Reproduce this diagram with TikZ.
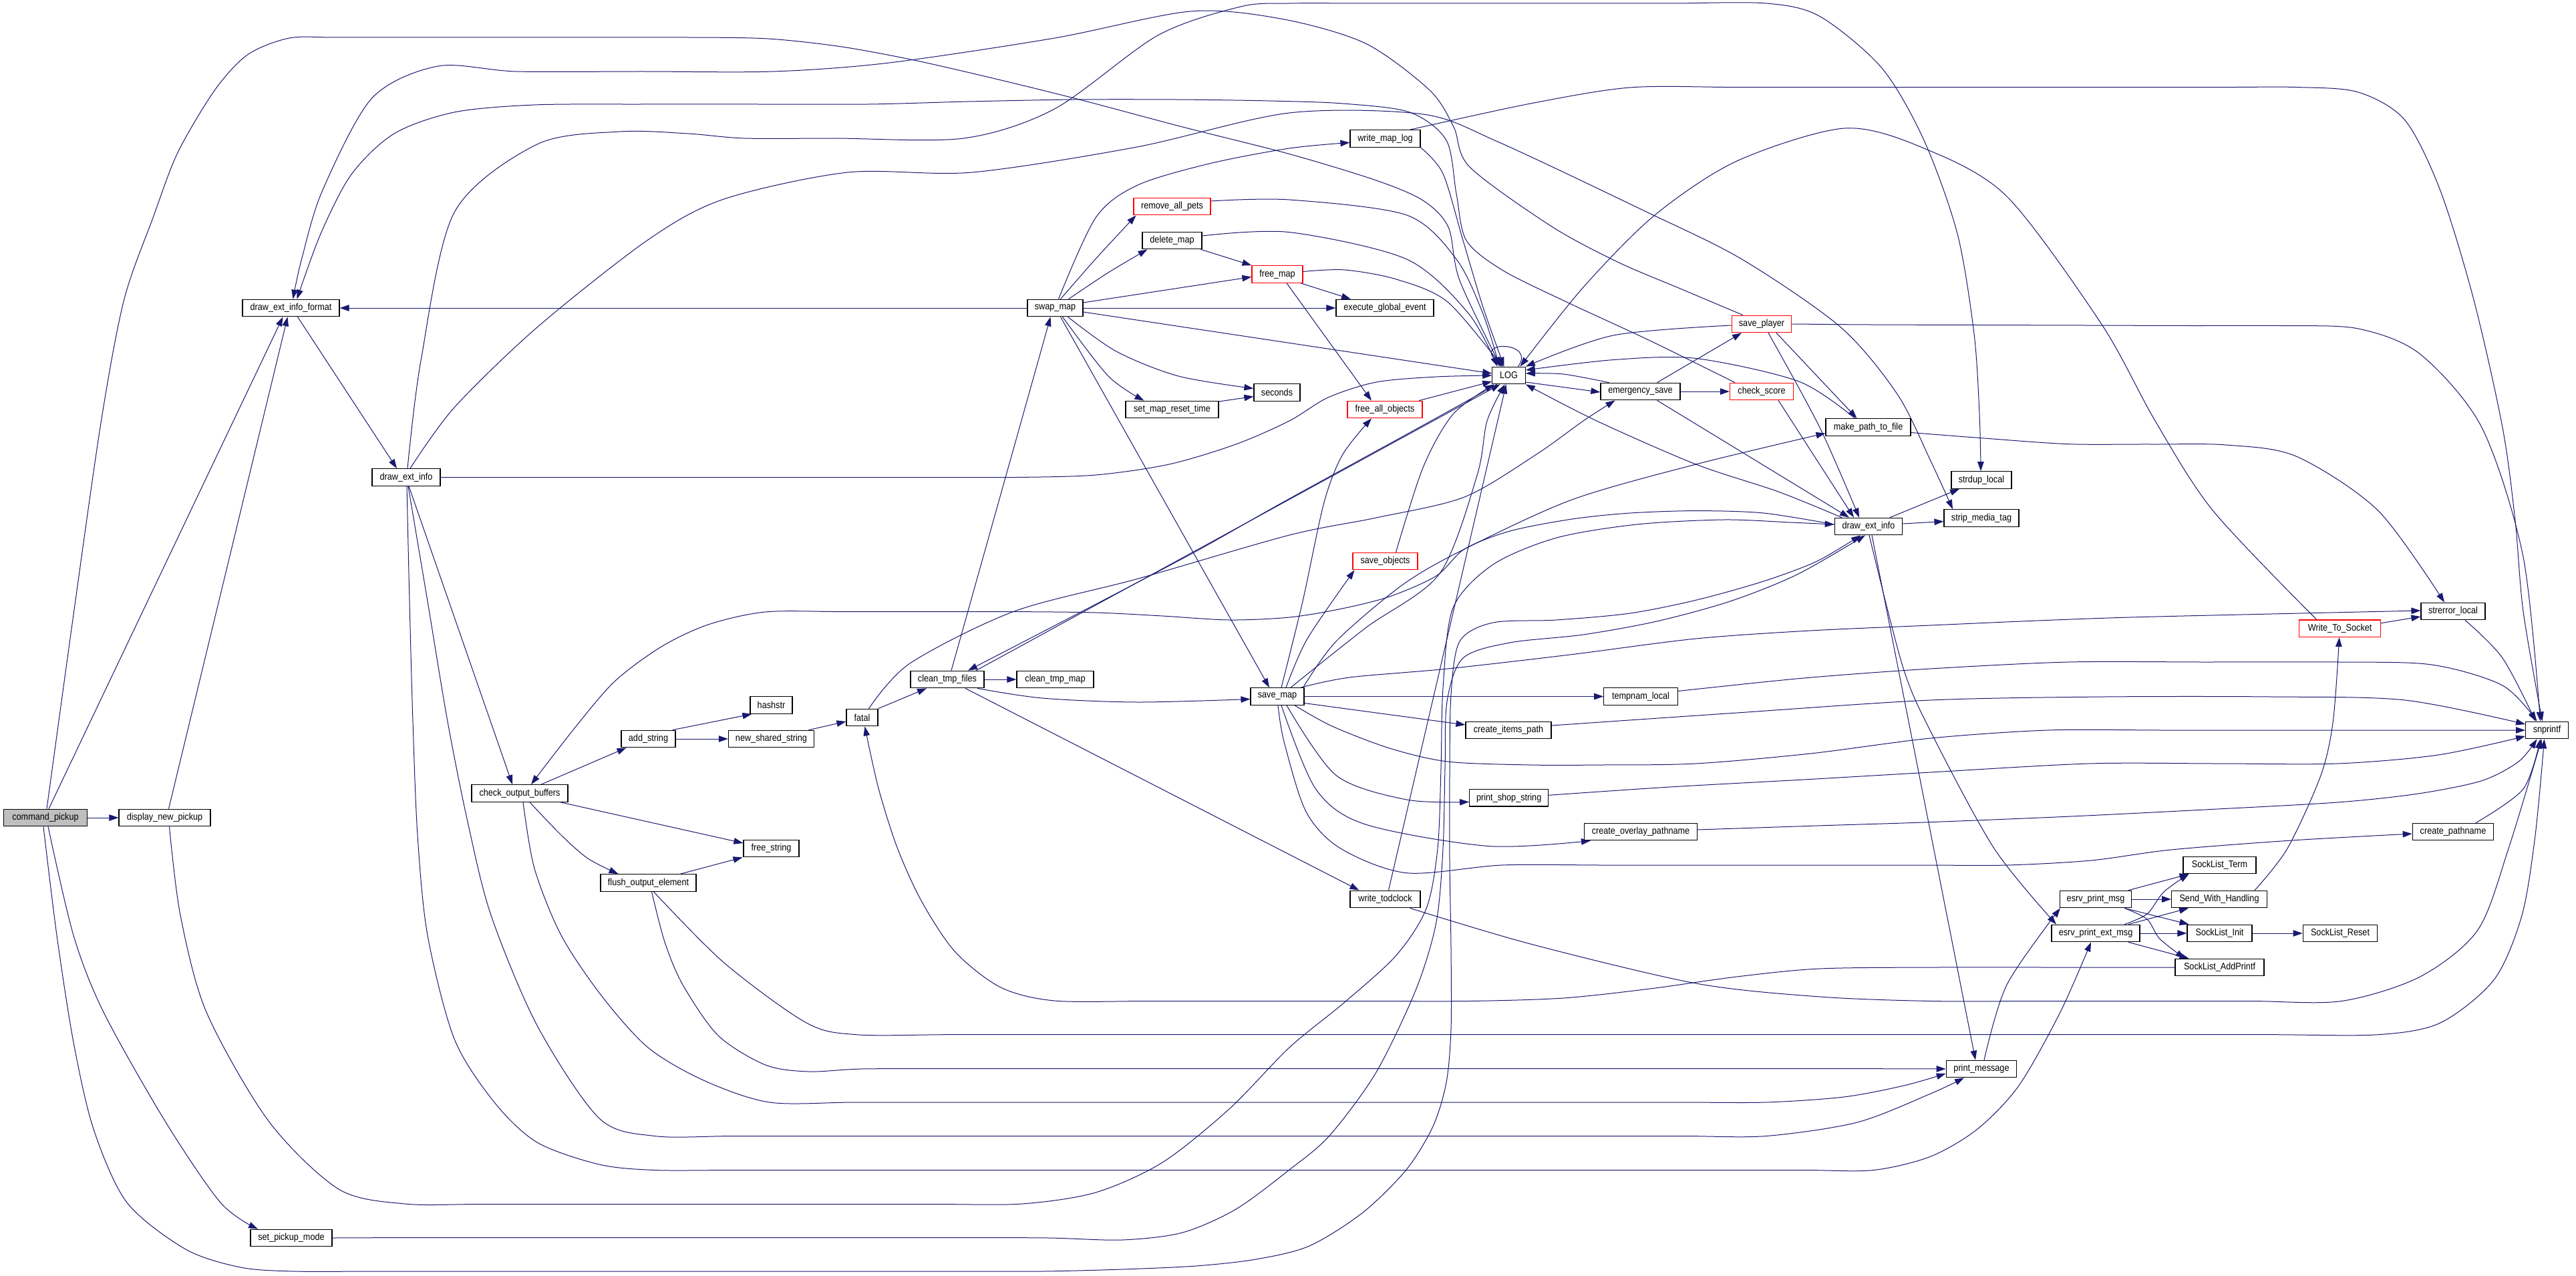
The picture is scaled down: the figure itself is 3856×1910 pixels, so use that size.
\documentclass[tikz,border=0pt]{standalone}
\usepackage{fontspec}
\setmainfont{Liberation Sans}[FakeStretch=0.88]
\usetikzlibrary{arrows.meta}
\definecolor{edgec}{HTML}{191970}
\definecolor{cpgray}{HTML}{BFBFBF}
\pgfdeclarelayer{bg}
\pgfdeclarelayer{paper}
\pgfsetlayers{paper,bg,main}
\newcommand\nfont{\fontsize{14.4}{16}\selectfont}
\tikzset{
  nd/.style={draw=black, line width=1.2pt, fill=white, minimum height=25.5pt, inner sep=0pt, font=\nfont},
  rd/.style={nd, draw=red},
  e/.style={draw=edgec, line width=1.0pt, line join=round, -{Triangle[length=14pt,width=9.5pt]}},
}
\newcommand\E[1]{\draw[e] plot[smooth,tension=0.5] coordinates {#1};}
\begin{document}
\begin{tikzpicture}[x=1pt,y=-1pt]
\begin{pgfonlayer}{paper}
\fill[white] (0,0) rectangle (3856,1910);
\end{pgfonlayer}
\useasboundingbox (0,0) rectangle (3856,1910);
% nodes
\node[nd,fill=cpgray,minimum width=125pt] (cp) at (68,1224) {command\_pickup};
\node[nd,minimum width=137pt] (dnp) at (246.5,1224) {display\_new\_pickup};
\node[nd,minimum width=122pt] (spm) at (436,1853) {set\_pickup\_mode};
\node[nd,minimum width=145pt] (dexf) at (435.5,461) {draw\_ext\_info\_format};
\node[nd,minimum width=102pt] (dei1) at (608,714.5) {draw\_ext\_info};
\node[nd,minimum width=144pt] (cob) at (778,1187.5) {check\_output\_buffers};
\node[nd,minimum width=81pt] (adds) at (970.5,1106) {add\_string};
\node[nd,minimum width=63pt] (hash) at (1154.5,1055.5) {hashstr};
\node[nd,minimum width=128pt] (nss) at (1154.5,1106) {new\_shared\_string};
\node[nd,minimum width=47pt] (fatal) at (1290.5,1074) {fatal};
\node[nd,minimum width=110pt] (ctf) at (1418,1017) {clean\_tmp\_files};
\node[nd,minimum width=115pt] (ctm) at (1579.5,1017) {clean\_tmp\_map};
\node[nd,minimum width=80pt] (savemap) at (1912,1042.5) {save\_map};
\node[nd,minimum width=83pt] (fstr) at (1154.5,1270) {free\_string};
\node[nd,minimum width=143pt] (foe) at (970.5,1321.5) {flush\_output\_element};
\node[nd,minimum width=83pt] (swap) at (1579.5,461) {swap\_map};
\node[rd,minimum width=115pt] (rap) at (1754.5,309) {remove\_all\_pets};
\node[nd,minimum width=89pt] (dm) at (1754.5,360) {delete\_map};
\node[rd,minimum width=76pt] (fm) at (1912,410.5) {free\_map};
\node[nd,minimum width=69pt] (sec) at (1911.5,587.5) {seconds};
\node[nd,minimum width=139pt] (smrt) at (1754.5,613) {set\_map\_reset\_time};
\node[nd,minimum width=105pt] (wml) at (2073.5,207.5) {write\_map\_log};
\node[nd,minimum width=146pt] (ege) at (2073,461) {execute\_global\_event};
\node[nd,minimum width=49.4pt] (log) at (2258.5,562) {LOG};
\node[rd,minimum width=112pt] (fao) at (2073,613) {free\_all\_objects};
\node[nd,minimum width=119pt] (es) at (2455.5,586) {emergency\_save};
\node[rd,minimum width=95pt] (cs) at (2637,586) {check\_score};
\node[rd,minimum width=89.5pt] (sp) at (2637,485) {save\_player};
\node[nd,minimum width=127pt] (mptf) at (2796.5,639.5) {make\_path\_to\_file};
\node[nd,minimum width=101.5pt] (dei2) at (2797,788) {draw\_ext\_info};
\node[rd,minimum width=97pt] (so) at (2073.5,840) {save\_objects};
\node[nd,minimum width=110.4pt] (tl) at (2456,1042.5) {tempnam\_local};
\node[nd,minimum width=128pt] (cip) at (2258,1093) {create\_items\_path};
\node[nd,minimum width=118pt] (pss) at (2258.7,1194.3) {print\_shop\_string};
\node[nd,minimum width=169pt] (cop) at (2456,1245) {create\_overlay\_pathname};
\node[nd,minimum width=105pt] (wtc) at (2073.5,1346) {write\_todclock};
\node[nd,minimum width=90pt] (sdl) at (2966,718.5) {strdup\_local};
\node[nd,minimum width=112pt] (smt) at (2966,775.5) {strip\_media\_tag};
\node[nd,minimum width=96pt] (sel) at (3672,915) {strerror\_local};
\node[rd,minimum width=122pt] (wts) at (3502.6,940.7) {Write\_To\_Socket};
\node[nd,minimum width=63.7pt] (snp) at (3812.5,1093) {snprintf};
\node[nd,minimum width=121.5pt] (cpn) at (3672,1245) {create\_pathname};
\node[nd,minimum width=109pt] (slt) at (3322.5,1295) {SockList\_Term};
\node[nd,minimum width=107pt] (epm) at (3137,1346) {esrv\_print\_msg};
\node[nd,minimum width=142.5pt] (swh) at (3322,1346) {Send\_With\_Handling};
\node[nd,minimum width=132pt] (epem) at (3137,1397) {esrv\_print\_ext\_msg};
\node[nd,minimum width=97pt] (sli) at (3322.5,1397) {SockList\_Init};
\node[nd,minimum width=111.6pt] (slr) at (3503,1397) {SockList\_Reset};
\node[nd,minimum width=133pt] (slap) at (3322.5,1448) {SockList\_AddPrintf};
\node[nd,minimum width=105.6pt] (pm) at (2966,1600) {print\_message};

\begin{pgfonlayer}{bg}
% command_pickup
\draw[e] ([xshift=5pt]cp.north) -- ([xshift=-12pt]dexf.south);
\draw[e] ([xshift=6pt]dnp.north) -- ([xshift=-5pt]dexf.south);
\draw[e] (cp.east) -- (dnp.west);
\E{([xshift=4pt]cp.south) (110,1400) (155,1515) (247,1678) (330,1800) ([xshift=-50pt]spm.north)}
\E{([xshift=2pt]cp.north) (110,920) (151.5,630) (185.6,449) (229,326) (266,228.5) (321.7,134.6) (371,81.6) (433,57) (500,56) (600,56) (730,56) (880,56) (1030,56) (1150,58) (1260,70) (1368,90) (1490,118) (1615.7,149) (1770,190) (1930,230.5) (2060,270) (2130,300) (2168,340) (2185,420) ([xshift=-12pt]log.north)}
\E{([xshift=-3pt]cp.south) (85,1400) (110,1560) (140,1690) (190,1800) (278,1870) (360,1897) (440,1903) (560,1903) (720,1903) (900,1903) (1080,1903) (1260,1903) (1420,1903) (1560,1903) (1680,1900) (1790,1895) (1880,1885) (1960,1865) (2040,1815) (2105,1751) (2145,1686) (2165,1620) (2172,1540) (2172,1420) (2170,1290) (2170,1160) (2172,1040) (2185,960) (2235,932) (2330,928) (2440,918) (2540,898) (2640,870) (2720,840) ([xshift=-12pt]dei2.south)}
\E{([xshift=7pt]dnp.south) (270,1370) (309,1515) (402,1678) (507,1780) (606,1802) (720,1802.5) (880,1802.5) (1060,1802.5) (1240,1802.5) (1400,1802.5) (1530,1802) (1640,1785) (1740,1740) (1840,1660) (1930,1568) (2013,1500) (2090,1430) (2135,1360) (2152,1270) (2157,1150) (2160,1030) (2175,910) (2235,845) (2330,805) (2450,785) (2580,778) (2680,782) ([yshift=3pt]dei2.west)}
\E{(spm.east) (600,1852.6) (750,1852.6) (920,1852.6) (1100,1852.6) (1280,1852.6) (1440,1852.6) (1570,1853) (1680,1856) (1770,1845) (1850,1810) (1930,1751) (1990,1700) (2060,1605) (2120,1480) (2150,1380) (2160,1270) (2163,1150) (2166,1050) (2190,985) (2260,962) (2370,950) (2480,930) (2590,900) (2690,860) ([xshift=-5pt]dei2.south)}
% draw_ext_info_format / draw_ext_info (left)
\draw[e] ([xshift=10pt]dexf.south) -- ([xshift=-14pt]dei1.north);
\draw[e] (swap.west) -- (dexf.east);
\E{([xshift=-28pt]sp.north) (2515,432) (2421,392) (2322,338.6) (2200,250) (2176,190) (2140,135) (2044,65) (1920,28.6) (1782,17) (1578.6,57) (1331,94) (1158,107) (960,107) (773,107) (655.6,99) (556.7,147) (482.5,285.6) (451.6,387.6) ([xshift=3pt]dexf.north)}
\E{([xshift=-40pt]cs.north) (2470,510) (2347,453) (2250,405) (2195,360) (2180,290) (2165,210) (2110,168) (2010,155) (1900,151) (1760,149) (1609,149) (1450,152) (1300,156) (1130,156) (960,156) (800,157) (680,168) (590,200) (526,261) (480,350) ([xshift=9pt]dexf.north)}
\E{([xshift=2pt]dei1.north) (630,540) (680,318) (804,216) (928,197) (1030,200) (1114.6,207) (1250,207) (1442.5,207) (1578.6,163) (1733,53) (1857,10) (1930,5) (2050,5) (2200,5) (2350,5) (2500,5) (2643.7,5) (2724,24.5) (2817,102) (2880,210) (2930,350) (2955,500) (2963,620) ([xshift=-1pt]sdl.north)}
\E{([xshift=6pt]dei1.north) (680,610) (804,490) (970,359) (1083.7,298) (1269,258) (1455,258) (1702,220) (1930,169) (2130,171) (2241.7,212) (2458,314) (2606.6,387.6) (2755,489.6) (2840,590) (2890,690) ([xshift=-43pt]smt.north)}
\draw[e] ([xshift=4pt]dei1.south) -- ([xshift=-11pt]cob.north);
\E{(dei1.east) (760,714.5) (900,714.5) (1060,714.5) (1220,714.5) (1380,714.5) (1520,714.5) (1640,711) (1750,695) (1850,665) (1930,630) (1988,595) (2060,572) (2150,564) (log.west)}
\E{([xshift=1pt]dei1.south) (613,900) (618,1080) (625,1250) (640,1400) (680,1555) (740,1650) (804,1710) (897,1743) (980,1751.5) (1100,1751.5) (1280,1751.5) (1460,1751.5) (1640,1751.5) (1820,1751.5) (2000,1751.5) (2180,1751.5) (2360,1751.5) (2540,1751.5) (2700,1751.5) (2804.6,1751.5) (2890,1731) (2960,1690) (3022,1625) (3084,1515) ([xshift=-7pt]epem.south)}
\E{([xshift=3pt]dei1.south) (640,900) (670,1080) (700,1230) (735,1370) (804,1535) (897,1674) (980,1700.5) (1100,1700.5) (1280,1700.5) (1460,1700.5) (1640,1700.5) (1820,1700.5) (2000,1700.5) (2180,1700.5) (2360,1700.5) (2520,1700.5) (2643.7,1700.5) (2780,1680) (2890,1637) ([xshift=-26pt]pm.south)}
% check_output_buffers
\draw[e] ([xshift=32pt]cob.north) -- ([xshift=-33pt]adds.south);
\draw[e] ([xshift=61pt]cob.south) -- ([yshift=8pt]fstr.west);
\E{([xshift=15pt]cob.south) (840,1250) (880,1285) ([xshift=-45pt]foe.north)}
\E{([xshift=5pt]cob.south) (800,1300) (840,1400) (900,1490) (970,1568) (1053,1617) (1152,1650) (1280,1650) (1460,1650) (1640,1650) (1820,1650) (2000,1650) (2180,1650) (2360,1650) (2520,1650) (2644,1650) (2760,1642) (2850,1625) ([yshift=-7pt]pm.west)}
\E{([yshift=3pt]dei2.west) (2640,768) (2538.6,764.6) (2440,768) (2353,777) (2260,795) (2192,822) (2150,862) (2080,893) (2006.6,911.5) (1930,924) (1840,928) (1740,922) (1640,917) (1520,915.6) (1390,915.6) (1260,915.6) (1145.5,916) (1060,935) (990,968) (920,1020) (860,1090) ([xshift=17pt]cob.north)}
\draw[e] ([xshift=48pt]foe.north) -- ([xshift=-43pt]fstr.south);
\E{([xshift=8pt]foe.south) (1083.7,1441) (1207,1531) (1281.7,1548.7) (1420,1548.7) (1600,1548.7) (1780,1548.7) (1960,1548.7) (2140,1548.7) (2320,1548.7) (2500,1548.7) (2680,1548.7) (2860,1548.7) (3040,1548.7) (3220,1548.7) (3400,1548.7) (3560,1548.7) (3653,1531) (3733.6,1466) (3775,1370) (3795,1250) ([xshift=-4pt]snp.south)}
\E{([xshift=5pt]foe.south) (995,1410) (1022,1474) (1075,1550) (1145.6,1594) (1210,1604) (1290,1600) (1420,1599.7) (1580,1599.7) (1760,1599.7) (1940,1599.7) (2120,1599.7) (2300,1599.7) (2480,1599.7) (2660,1599.7) (2800,1599.7) (pm.west)}
\draw[e] ([xshift=-5pt]adds.north east) -- ([xshift=3pt]hash.south west);
\draw[e] (adds.east) -- (nss.west);
\draw[e] ([xshift=56pt]nss.north) -- ([yshift=-6pt]fatal.west);
\draw[e] (fatal.north east) -- ([xshift=-31pt]ctf.south);
\E{([xshift=10pt]fatal.north) (1362,993) (1516.7,915.6) (1702,866.6) (1930,801) (2060,775) (2192,744) (2300,680) (2370,630) ([xshift=-38pt]es.south)}
% clean_tmp_files
\draw[e] (ctf.east) -- (ctm.west);
\E{([xshift=45pt]ctf.south) (1560,1045) (1702,1051) ([yshift=-4pt]savemap.west)}
\draw[e] ([xshift=27pt]ctf.south) -- ([xshift=-39pt]wtc.north);
\draw[e] ([xshift=6pt]ctf.north) -- ([xshift=-7pt]swap.south);
\draw[e] ([xshift=43pt]ctf.north) -- ([xshift=-13pt]log.south);
\E{([xshift=-18pt]log.south) (2124,640) (1920,752) (1789,826) (1620,915) ([xshift=31pt]ctf.north)}
% swap_map
\E{([xshift=5pt]swap.north) (1640,326) (1702,277.5) (1810,245) (1930,222) ([yshift=-6pt]wml.west)}
\E{([xshift=8pt]swap.north) (1640,387.6) ([xshift=-54pt]rap.south)}
\E{([xshift=20pt]swap.north) (1659,408) ([xshift=-37pt]dm.south)}
\draw[e] ([yshift=8pt]swap.east) -- ([yshift=-4pt]fm.west);
\draw[e] (swap.east) -- (ege.west);
\draw[e] ([yshift=-6pt]swap.east) -- ([yshift=3pt]log.west);
\E{([xshift=19pt]swap.south) (1671,526) (1764,563) ([yshift=6pt]sec.west)}
\E{([xshift=11pt]swap.south) (1659,563) ([xshift=-42pt]smrt.north)}
\draw[e] ([xshift=8pt]swap.south) -- ([xshift=-12pt]savemap.north);
\draw[e] ([xshift=43pt]dm.south) -- (fm.north west);
\E{([yshift=7pt]dm.east) (1930,347.6) (2105.6,388) (2198,469) ([xshift=-17pt]log.north)}
\E{([yshift=8pt]rap.east) (1930,299) (2105.6,322) (2180,388) (2220,470) ([xshift=-14pt]log.north)}
\draw[e] ([xshift=35pt]fm.south) -- ([xshift=-51pt]ege.north);
\E{([yshift=4pt]fm.east) (2013,404) (2090,418) (2167,452) ([xshift=-10pt]log.north)}
\draw[e] ([xshift=14pt]fm.south) -- ([xshift=-20pt]fao.north);
\draw[e] ([yshift=12pt]smrt.east) -- ([yshift=-6pt]sec.west);
\E{(wml.south east) (2160,260) (2190,360) (2220,460) ([xshift=-7pt]log.north)}
\E{([xshift=37pt]wml.north) (2291,155) (2440,131) (2600,130.6) (2780,130.6) (2960,130.6) (3140,130.6) (3320,130.6) (3440,130.6) (3530,138) (3600,180) (3653,285.6) (3703,449) (3746,640) (3765,780) (3777,915.6) ([xshift=-7pt]snp.north)}
\draw[e] ([xshift=51pt]fao.north) -- ([yshift=-9pt]log.west);
% save_map
\E{([xshift=6pt]savemap.north) (1950,900) (1982,752) (2010,680) ([xshift=-20pt]fao.south)}
\E{([xshift=13pt]savemap.north) (1957,956) ([xshift=-46pt]so.south)}
\E{([xshift=20pt]savemap.north) (2044,940) (2155,858.5) (2211,711.6) (2226,630) ([xshift=-6pt]log.south)}
\E{([xshift=16pt]so.north) (2130,700) (2175,620) ([xshift=-22pt]log.south)}
\draw[e] ([xshift=5pt]wtc.north) -- ([xshift=-4pt]log.south);
\E{([xshift=37pt]wtc.south) (2291,1413) (2538.6,1472) (2724,1492) (2890,1498.5) (3050,1498.5) (3210,1498.5) (3370,1498.5) (3505,1498.5) (3622.6,1462) (3709,1392) (3755,1270) ([xshift=-8pt]snp.south)}
\E{(slap.west) (3080,1448) (2900,1448) (2724,1450) (2600,1462) (2470,1480) (2340,1494) (2200,1498.5) (2040,1498.5) (1880,1498.5) (1720,1498.5) (1578.6,1498) (1498,1478) (1430,1425) (1380,1350) (1343.5,1270) (1315,1180) ([xshift=4pt]fatal.south)}
\draw[e] (savemap.east) -- (tl.west);
\draw[e] ([yshift=-10pt]savemap.east) -- ([yshift=8pt]cip.west);
\E{([xshift=14pt]savemap.south) (2000,1160.6) (2105.6,1197) ([yshift=-6pt]pss.west)}
\E{([xshift=6pt]savemap.south) (1969.5,1181) (2044,1234) (2229,1266.6) ([xshift=-75pt]cop.south)}
\E{([xshift=1pt]savemap.south) (1922,1110) (1955,1215) (2006.6,1270) (2105.6,1306.7) (2248,1295) (2400,1295) (2560,1295) (2720,1295) (2880,1295) (3004,1295) (3130,1288) (3250,1272) (3430,1258) ([yshift=-3pt]cpn.west)}
\E{([xshift=26pt]savemap.south) (1994,1087) (2080,1120) (2167,1140) (2290,1145) (2400,1145) (2538.6,1143) (2710,1128) (2890,1105) (3065.6,1093) (3240,1093) (3420,1093) (3600,1093) (snp.west)}
\E{([xshift=35pt]savemap.north) (2020,1014) (2167,1001) (2350,980) (2538.6,956) (2710,944) (2890,936) (3050,929) (3189,924) (3400,919) ([yshift=1pt]sel.west)}
\E{([xshift=-2pt]savemap.north east) (2000,960) (2100,875) (2192,822) (2353,748) (2538.6,695) ([yshift=-9pt]mptf.west)}
\E{([yshift=8pt]tl.east) (2700,1015) (2890,1001) (3096.5,991) (3300,991) (3500,991) (3640,995) (3746,1026) ([xshift=-15pt]snp.north)}
\E{([yshift=7pt]cip.east) (2600,1067) (2890,1048) (3150,1043) (3400,1043) (3600,1048) ([yshift=9pt]snp.west)}
\E{([yshift=4pt]pss.east) (2500,1178) (2700,1167) (2890,1156) (3127.5,1143) (3320,1143) (3499,1143) (3650,1130) ([yshift=-9pt]snp.west)}
\E{([yshift=3pt]cop.east) (2720,1236) (2890,1230.6) (3100,1222) (3300,1212) (3498.6,1201) (3620,1188) (3715,1168.6) (3770,1140) ([xshift=-15pt]snp.south)}
\E{([xshift=34pt]cpn.north) (3777,1181) ([xshift=-10pt]snp.south)}
% right part
\E{([yshift=-8pt]mptf.east) (2970,656) (3096.5,664.7) (3220,665) (3331.6,666) (3437,683) (3560,764.6) ([xshift=-13pt]sel.north)}
\E{([xshift=18pt]sel.south) (3746,985) ([xshift=-17pt]snp.north)}
\draw[e] ([yshift=8pt]wts.east) -- ([yshift=-8pt]sel.west);
\E{([xshift=-35pt]wts.north) (3313,765) (3226,630) (3146,485.6) (3004,294) (2880,222) (2761,192) (2600,241) (2477,322) (2370,430) ([xshift=17pt]log.north)}
\E{([xshift=53pt]swh.north) (3424,1270) (3474,1160.6) (3492.4,1079) ([xshift=-1pt]wts.south)}
\E{(sp.east) (2800,486) (2960,486.5) (3120,487) (3280,487.5) (3420,487.6) (3530,492) (3622.6,530) (3715,640) (3777,834) ([xshift=-10pt]snp.north)}
\E{([yshift=-2pt]sp.west) (2415,502) (log.north east)}
\draw[e] ([xshift=22pt]sp.south) -- ([xshift=-17pt]mptf.north);
\E{([xshift=10pt]sp.south) (2724,640) ([xshift=-14pt]dei2.north)}
\draw[e] ([xshift=25pt]es.north) -- ([xshift=-30pt]sp.south);
\draw[e] (es.east) -- (cs.west);
\E{([xshift=-47pt]es.north) (2340,560) ([yshift=3pt]log.east)}
\draw[e] ([yshift=-10pt]log.east) -- ([yshift=-1pt]es.west);
\draw[e] ([xshift=25pt]es.south) -- ([xshift=-29pt]dei2.north);
\draw[e] ([xshift=25pt]cs.south) -- ([xshift=-22pt]dei2.north);
\E{([xshift=-20pt]mptf.north) (2692.7,571) (2538.6,536.5) (2415,538.6) ([yshift=8pt]log.east)}
\E{([xshift=-40pt]dei2.north) (2662,736) (2538.6,695) (2390,630) (log.south east)}
\draw[e] ([xshift=32pt]dei2.north) -- ([xshift=-33pt]sdl.south);
\draw[e] ([yshift=4pt]dei2.east) -- ([yshift=-5pt]smt.west);
\draw[e] ([xshift=5pt]dei2.south) -- ([xshift=-9pt]pm.north);
\E{([xshift=1pt]dei2.south) (2848,997) (2890,1095) (2985,1270) ([xshift=-59pt]epem.north)}
\E{([xshift=4pt]pm.north) (3004,1474) ([xshift=-53pt]epm.south)}
\draw[e] ([xshift=49pt]epm.north) -- ([xshift=-46pt]slt.south);
\draw[e] (epm.east) -- (swh.west);
\draw[e] ([xshift=43pt]epm.south) -- ([xshift=-46pt]sli.north);
\E{([xshift=43pt]epm.south) (3214,1376) (3232.6,1405) ([xshift=-52pt]slap.north)}
\E{([xshift=43pt]epem.north) (3214,1368) (3239,1335) ([xshift=-46pt]slt.south)}
\draw[e] ([xshift=49pt]epem.north) -- ([xshift=-46pt]swh.south);
\draw[e] (epem.east) -- (sli.west);
\draw[e] ([xshift=49pt]epem.south) -- ([xshift=-46pt]slap.north);
\draw[e] (sli.east) -- (slr.west);
\draw[e] ([xshift=14pt]log.north) .. controls (2300,510) and (2205,510) .. ([xshift=-8pt]log.north);
\end{pgfonlayer}
\end{tikzpicture}
\end{document}
